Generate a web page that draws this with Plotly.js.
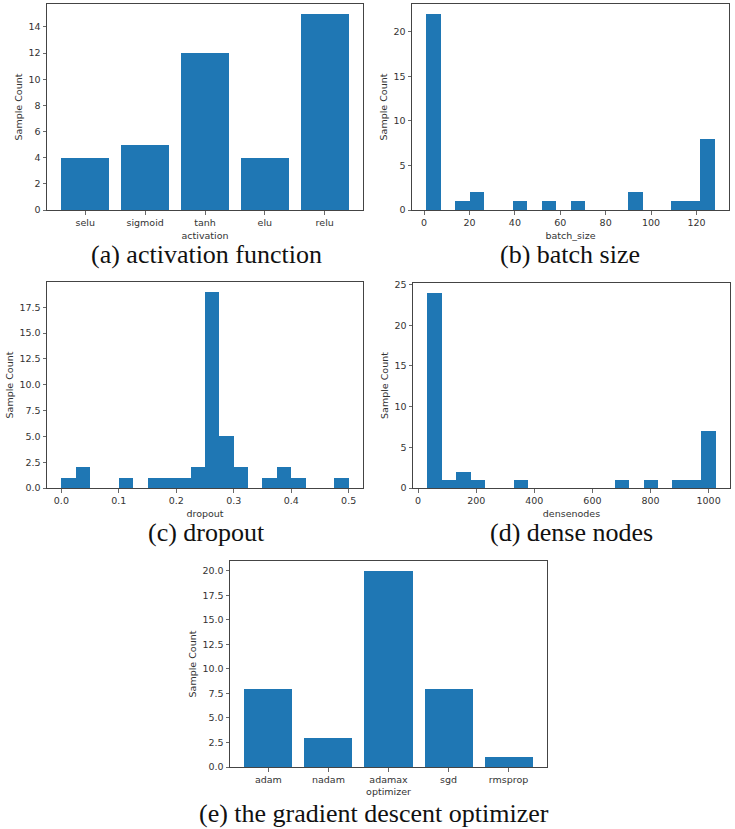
<!DOCTYPE html>
<html>
<head>
<meta charset="utf-8">
<script src="https://cdn.plot.ly/plotly-3.0.1.min.js"></script>
<style>
  body { margin: 0; background: #fff; }
  #chart { width: 735px; height: 829px; }
</style>
</head>
<body>
<div id="chart"></div>
<script>
// values
const activationNames = ["selu", "sigmoid", "tanh", "elu", "relu"];
const activationCounts = [4, 5, 12, 4, 15];

const batchEdges = [1, 7.35, 13.7, 20.05, 26.4, 32.75, 39.1, 45.45, 51.8, 58.15,
  64.5, 70.85, 77.2, 83.55, 89.9, 96.25, 102.6, 108.95, 115.3, 121.65];
const batchCounts = [22, 0, 1, 2, 0, 0, 1, 0, 1, 0, 1, 0, 0, 0, 2, 0, 0, 1, 1, 8];
const batchBinWidth = 6.35;

const dropoutEdges = [0, 0.025, 0.05, 0.075, 0.1, 0.125, 0.15, 0.175, 0.2, 0.225,
  0.25, 0.275, 0.3, 0.325, 0.35, 0.375, 0.4, 0.425, 0.45, 0.475];
const dropoutCounts = [1, 2, 0, 0, 1, 0, 1, 1, 1, 2, 19, 5, 2, 0, 1, 2, 1, 0, 0, 1];
const dropoutBinWidth = 0.025;

const denseEdges = [32, 81.6, 131.2, 180.8, 230.4, 280, 329.6, 379.2, 428.8, 478.4,
  528, 577.6, 627.2, 676.8, 726.4, 776, 825.6, 875.2, 924.8, 974.4];
const denseCounts = [24, 1, 2, 1, 0, 0, 1, 0, 0, 0, 0, 0, 0, 1, 0, 1, 0, 1, 1, 7];
const denseBinWidth = 49.6;

const optimizerNames = ["adam", "nadam", "adamax", "sgd", "rmsprop"];
const optimizerCounts = [8, 3, 20, 8, 1];

const captions = [
  "(a) activation function",
  "(b) batch size",
  "(c) dropout",
  "(d) dense nodes",
  "(e) the gradient descent optimizer",
];

const BLUE = "#1f77b4";
const W = 735, H = 829;

// plot frames in pixels: [left, right, top, bottom]
const frames = [
  [47, 363, 4, 210],
  [412, 729, 4, 210],
  [47, 363, 282, 488],
  [413, 730, 283, 488],
  [230, 547, 561, 767],
];

function xDom(f) { return [f[0] / W, f[1] / W]; }
function yDom(f) { return [1 - f[3] / H, 1 - f[2] / H]; }

const tickFont = { family: "DejaVu Sans", size: 9.5, color: "#333" };
const labelFont = { family: "DejaVu Sans", size: 9.5, color: "#333" };

function baseAxis(extra) {
  return Object.assign({
    showline: true,
    mirror: true,
    linecolor: "#444",
    linewidth: 1,
    ticks: "outside",
    ticklen: 3.5,
    tickwidth: 0.8,
    tickcolor: "#444",
    tickfont: tickFont,
    showgrid: false,
    zeroline: false,
    fixedrange: true,
  }, extra);
}

function catBar(names, counts, xa, ya) {
  return {
    type: "bar", x: names, y: counts, width: 0.8,
    marker: { color: BLUE, line: { width: 0 } },
    xaxis: xa, yaxis: ya, hoverinfo: "x+y",
  };
}

function histBar(edges, counts, bw, xa, ya) {
  return {
    type: "bar", x: edges, y: counts, width: bw, offset: 0,
    marker: { color: BLUE, line: { width: 0 } },
    xaxis: xa, yaxis: ya, hoverinfo: "y",
  };
}

const data = [
  catBar(activationNames, activationCounts, "x", "y"),
  histBar(batchEdges, batchCounts, batchBinWidth, "x2", "y2"),
  histBar(dropoutEdges, dropoutCounts, dropoutBinWidth, "x3", "y3"),
  histBar(denseEdges, denseCounts, denseBinWidth, "x4", "y4"),
  catBar(optimizerNames, optimizerCounts, "x5", "y5"),
];

const yTitle = (t) => ({ text: t, font: labelFont, standoff: 4 });
const xTitle = (t) => ({ text: t, font: labelFont, standoff: 5 });

const layout = {
  width: W,
  height: H,
  margin: { l: 0, r: 0, t: 0, b: 0 },
  paper_bgcolor: "#fff",
  plot_bgcolor: "#fff",
  showlegend: false,
  bargap: 0,

  xaxis: baseAxis({ domain: xDom(frames[0]), anchor: "y", type: "category",
    range: [-0.64, 4.64], title: xTitle("activation") }),
  yaxis: baseAxis({ domain: yDom(frames[0]), anchor: "x",
    range: [0, 15.75], tickvals: [0, 2, 4, 6, 8, 10, 12, 14], title: yTitle("Sample Count") }),

  xaxis2: baseAxis({ domain: xDom(frames[1]), anchor: "y2",
    range: [-5.35, 134.35], tickvals: [0, 20, 40, 60, 80, 100, 120], title: xTitle("batch_size") }),
  yaxis2: baseAxis({ domain: yDom(frames[1]), anchor: "x2",
    range: [0, 23.1], tickvals: [0, 5, 10, 15, 20], title: yTitle("Sample Count") }),

  xaxis3: baseAxis({ domain: xDom(frames[2]), anchor: "y3",
    range: [-0.025, 0.525], tickvals: [0, 0.1, 0.2, 0.3, 0.4, 0.5], tickformat: ".1f",
    title: xTitle("dropout") }),
  yaxis3: baseAxis({ domain: yDom(frames[2]), anchor: "x3",
    range: [0, 19.95], tickvals: [0, 2.5, 5, 7.5, 10, 12.5, 15, 17.5], tickformat: ".1f",
    title: yTitle("Sample Count") }),

  xaxis4: baseAxis({ domain: xDom(frames[3]), anchor: "y4",
    range: [-17.6, 1073.6], tickvals: [0, 200, 400, 600, 800, 1000], title: xTitle("densenodes") }),
  yaxis4: baseAxis({ domain: yDom(frames[3]), anchor: "x4",
    range: [0, 25.2], tickvals: [0, 5, 10, 15, 20, 25], title: yTitle("Sample Count") }),

  xaxis5: baseAxis({ domain: xDom(frames[4]), anchor: "y5", type: "category",
    range: [-0.64, 4.64], title: { text: "optimizer", font: labelFont, standoff: 4 } }),
  yaxis5: baseAxis({ domain: yDom(frames[4]), anchor: "x5",
    range: [0, 21], tickvals: [0, 2.5, 5, 7.5, 10, 12.5, 15, 17.5, 20], tickformat: ".1f",
    title: yTitle("Sample Count") }),

  annotations: [],
};

// captions under each panel
const captionPos = [[206, 255], [570, 255], [206, 532], [571, 532], [374, 813]];
captions.forEach((txt, i) => {
  layout.annotations.push({
    text: txt,
    xref: "paper", yref: "paper",
    x: captionPos[i][0] / W, y: 1 - captionPos[i][1] / H,
    xanchor: "center", yanchor: "middle",
    showarrow: false,
    font: { family: "Liberation Serif, Times New Roman, Times, serif", size: 26, color: "#111" },
  });
});

Plotly.newPlot("chart", data, layout, { displayModeBar: false, staticPlot: true });
</script>
</body>
</html>
